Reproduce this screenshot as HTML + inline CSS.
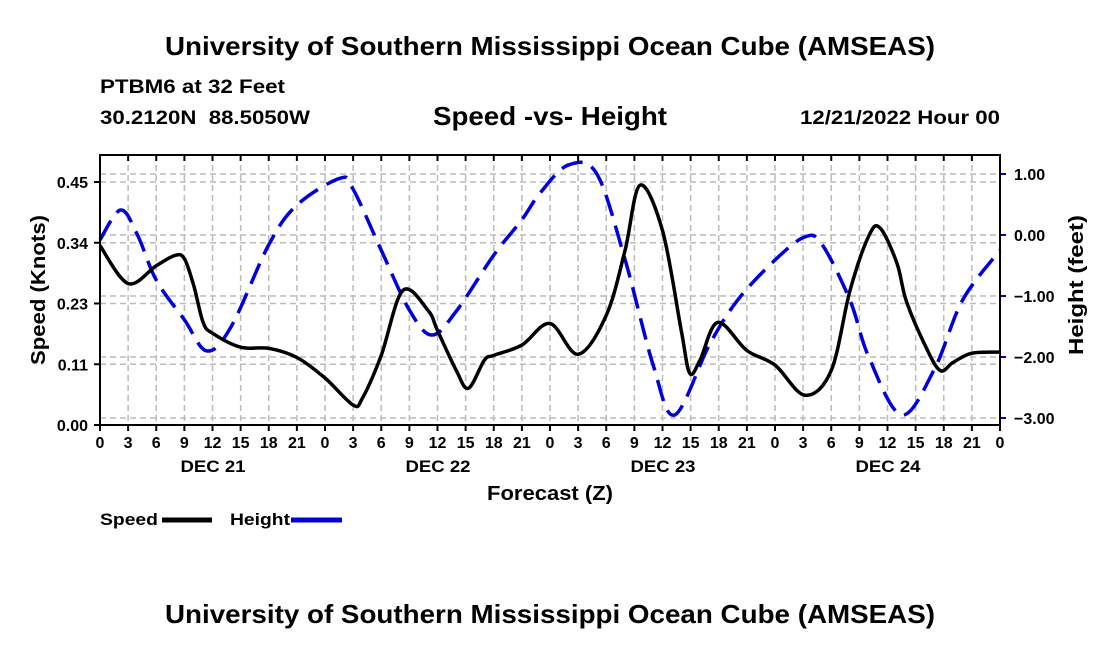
<!DOCTYPE html>
<html><head><meta charset="utf-8"><style>
body{margin:0;background:#fff;font-family:"Liberation Sans",Arial,sans-serif}
svg text{font-family:"Liberation Sans",Arial,sans-serif;font-weight:bold;fill:#000}
</style></head><body>
<svg id="c" width="1100" height="650" xmlns="http://www.w3.org/2000/svg">
<text x="165" y="55" font-size="26" textLength="770" lengthAdjust="spacingAndGlyphs">University of Southern Mississippi Ocean Cube (AMSEAS)</text>
<text x="100" y="93" font-size="19" textLength="185" lengthAdjust="spacingAndGlyphs">PTBM6 at 32 Feet</text>
<text x="100" y="124" font-size="19" textLength="210" lengthAdjust="spacingAndGlyphs" xml:space="preserve">30.2120N  88.5050W</text>
<text x="433" y="125" font-size="26" textLength="234" lengthAdjust="spacingAndGlyphs">Speed -vs- Height</text>
<text x="800" y="124" font-size="19" textLength="200" lengthAdjust="spacingAndGlyphs">12/21/2022 Hour 00</text>
<g id="grid"></g>
<g id="series"></g>
<g id="axes"></g>
<text transform="translate(45,365) rotate(-90)" font-size="20" textLength="150" lengthAdjust="spacingAndGlyphs">Speed (Knots)</text>
<text transform="translate(1083,355) rotate(-90)" font-size="20" textLength="140" lengthAdjust="spacingAndGlyphs">Height (feet)</text>
<text x="487" y="500" font-size="20" textLength="126" lengthAdjust="spacingAndGlyphs">Forecast (Z)</text>
<g>
<text x="100" y="525" font-size="17" textLength="58" lengthAdjust="spacingAndGlyphs">Speed</text>
<line x1="162" y1="520" x2="212" y2="520" stroke="#000" stroke-width="5"/>
<text x="230" y="525" font-size="17" textLength="60" lengthAdjust="spacingAndGlyphs">Height</text>
<line x1="291" y1="520" x2="342" y2="520" stroke="#0000dd" stroke-width="5"/>
</g>
<text x="165" y="623" font-size="26" textLength="770" lengthAdjust="spacingAndGlyphs">University of Southern Mississippi Ocean Cube (AMSEAS)</text>
</svg>
<script>
const speedHours=[0,3,6,8,9,10,11,12,15,18,21,24,27,28,30,32.3,35,36,38,39.3,41,42,45,48,51,54,56,57.6,60,62,62.9,64,65.9,69,72,75.2,78,80,82,83.2,85,86,88,89.6,91,93,96];
const speedVals=[0.332,0.262,0.295,0.314,0.308,0.258,0.19,0.17,0.144,0.142,0.125,0.087,0.037,0.05,0.129,0.249,0.212,0.175,0.101,0.068,0.12,0.129,0.148,0.188,0.131,0.203,0.323,0.444,0.36,0.175,0.096,0.12,0.19,0.138,0.111,0.055,0.101,0.249,0.35,0.365,0.3,0.23,0.148,0.101,0.116,0.133,0.135];
const heightHours=[0,2.2,4,6,9,11.4,14,18,21,25.6,27,30,33,35.4,38,42,45,47,50,53,56,59,61.3,65,68,72,75.2,77,80,82,85.5,89,92,96];
const heightVals=[-0.08,0.41,0.0,-0.74,-1.39,-1.9,-1.5,-0.16,0.49,0.93,0.75,-0.25,-1.23,-1.64,-1.25,-0.33,0.25,0.7,1.15,1.0,-0.4,-2.13,-2.95,-1.8,-1.07,-0.41,-0.03,-0.15,-1.07,-2.0,-2.95,-2.2,-1.07,-0.25];
const xTickLabels=["0","3","6","9","12","15","18","21"];
const dayLabels=["DEC 21","DEC 22","DEC 23","DEC 24"];
const speedTicks=[0,0.1125,0.225,0.3375,0.45];
const speedTickLabels=["0.00","0.11","0.23","0.34","0.45"];
const heightTicks=[-3,-2,-1,0,1];
const heightTickLabels=["\u22123.00","\u22122.00","\u22121.00","0.00","1.00"];

const L=100,R=1000,T=155,B=425;
const xs=h=>L+h*(R-L)/96;
const ys=v=>B-v*(B-T)/0.5;
const yh=v=>235-v*61;
const NS="http://www.w3.org/2000/svg";
function mk(tag,attrs,parent){const e=document.createElementNS(NS,tag);for(const k in attrs)e.setAttribute(k,attrs[k]);parent.appendChild(e);return e;}
const grid=document.getElementById('grid'),axes=document.getElementById('axes'),series=document.getElementById('series');
for(let h=0;h<=96;h+=3){
  const x=xs(h);
  const g=mk('line',{x1:x,y1:T,x2:x,y2:B,stroke:'#bbb','stroke-width':1.5,'stroke-dasharray':'6,4'},grid);
  
  
  const t=mk('line',{x1:x,y1:B,x2:x,y2:B+6,stroke:'#000','stroke-width':2},axes);
  
  
  const tt=mk('line',{x1:x,y1:T,x2:x,y2:T+6,stroke:'#000','stroke-width':2},axes);
  
  
  const lb=mk('text',{x:x,y:448,'font-size':16,'text-anchor':'middle'},axes);
  lb.textContent=xTickLabels[(h/3)%8];
  
  
}
dayLabels.forEach((d,i)=>{
  const t=mk('text',{x:xs(12+24*i)-32,y:472,'font-size':17,textLength:65,lengthAdjust:'spacingAndGlyphs'},axes);
  t.textContent=d;
  
  
});
speedTicks.forEach((v,i)=>{
  const y=ys(v);
  if(v>0){const g=mk('line',{x1:L,y1:y,x2:R,y2:y,stroke:'#bbb','stroke-width':1.5,'stroke-dasharray':'6,4'},grid);
  
  }
  const t=mk('line',{x1:L-6,y1:y,x2:L,y2:y,stroke:'#000','stroke-width':2},axes);
  
  
  const lb=mk('text',{x:L-12,y:y+6,'font-size':16,'text-anchor':'end'},axes);
  lb.textContent=speedTickLabels[i];
  
  
});
heightTicks.forEach((v,i)=>{
  const y=yh(v);
  const g=mk('line',{x1:L,y1:y,x2:R,y2:y,stroke:'#bbb','stroke-width':1.5,'stroke-dasharray':'6,4'},grid);
  
  
  const t=mk('line',{x1:R,y1:y,x2:R+6,y2:y,stroke:'#0000cc','stroke-width':2},axes);
  
  
  const lb=mk('text',{x:R+14,y:y+6,'font-size':16,'text-anchor':'start'},axes);
  lb.textContent=heightTickLabels[i];
  
  
});
const frame=mk('path',{d:`M${L},${T}H${R}V${B}H${L}Z`,fill:'none',stroke:'#000','stroke-width':2},axes);


function smooth(pts){
  let d=`M${pts[0][0]},${pts[0][1]}`;
  for(let i=0;i<pts.length-1;i++){
    const p0=pts[Math.max(0,i-1)],p1=pts[i],p2=pts[i+1],p3=pts[Math.min(pts.length-1,i+2)];
    const c1=[p1[0]+(p2[0]-p0[0])/6,p1[1]+(p2[1]-p0[1])/6];
    const c2=[p2[0]-(p3[0]-p1[0])/6,p2[1]-(p3[1]-p1[1])/6];
    d+=`C${c1[0]},${c1[1]} ${c2[0]},${c2[1]} ${p2[0]},${p2[1]}`;
  }
  return d;
}
const hp=mk('path',{d:smooth(heightHours.map((h,i)=>[xs(h),yh(heightVals[i])])),fill:'none',stroke:'#0000dd','stroke-width':3.5,'stroke-dasharray':'22,10'},series);


const sp=mk('path',{d:smooth(speedHours.map((h,i)=>[xs(h),ys(speedVals[i])])),fill:'none',stroke:'#000','stroke-width':3.5},series);


</script>
</body></html>
